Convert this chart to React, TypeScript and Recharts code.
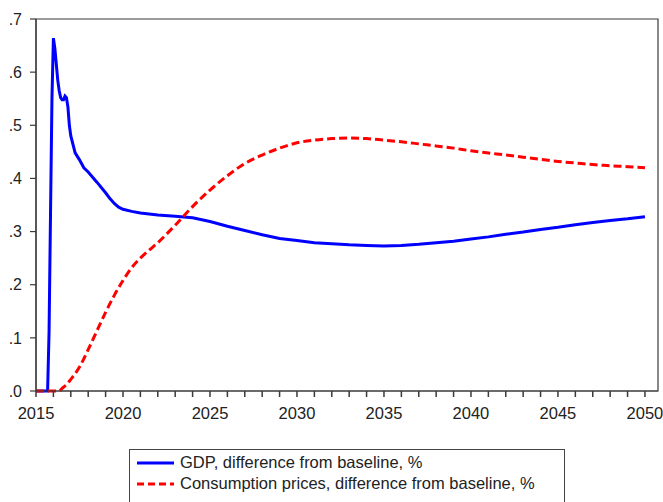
import React from "react";
import { LineChart, Line, XAxis, YAxis, ReferenceArea } from "recharts";

// GDP, difference from baseline (%)
const gdpYears = [
  2015.0, 2015.667, 2015.75, 2015.833, 2015.917, 2016.0, 2016.083, 2016.167, 2016.25,
  2016.333, 2016.417, 2016.5, 2016.583, 2016.667, 2016.75, 2016.833, 2016.917, 2017.0,
  2017.25, 2017.5, 2017.75, 2018.0, 2018.5, 2019.0, 2019.25, 2019.5, 2019.75, 2020.0,
  2020.5, 2021.0, 2022, 2023, 2024, 2025, 2026, 2027, 2028, 2029, 2030, 2031, 2032, 2033,
  2034, 2035, 2036, 2037, 2038, 2039, 2040, 2041, 2042, 2043, 2044, 2045, 2046, 2047, 2048,
  2049, 2050,
];
const gdpValues = [
  0, 0, 0.11, 0.33, 0.55, 0.664, 0.645, 0.615, 0.585,
  0.565, 0.552, 0.548, 0.548, 0.555, 0.552, 0.535, 0.5, 0.48,
  0.448, 0.435, 0.42, 0.412, 0.393, 0.373, 0.362, 0.353, 0.346, 0.342,
  0.338, 0.335, 0.331, 0.329, 0.326, 0.319, 0.31, 0.302, 0.294, 0.287, 0.283, 0.279, 0.277, 0.275,
  0.274, 0.273, 0.274, 0.276, 0.279, 0.282, 0.286, 0.29, 0.295, 0.299, 0.304, 0.308, 0.313, 0.317, 0.321,
  0.324, 0.328,
];

// Consumption prices, difference from baseline (%)
const cpiYears = [
  2015.0, 2016.33, 2016.5, 2016.75, 2017.0, 2017.5, 2018.0, 2018.5, 2019.0, 2019.5,
  2020.0, 2020.5, 2021.0, 2021.5, 2022, 2023, 2024, 2025, 2026, 2027, 2028, 2029, 2030,
  2031, 2032, 2033, 2034, 2035, 2036, 2037, 2038, 2039, 2040, 2041, 2042, 2043, 2044,
  2045, 2046, 2047, 2048, 2049, 2050,
];
const cpiValues = [
  0, 0, 0.005, 0.012, 0.022, 0.045, 0.078, 0.113, 0.148, 0.18,
  0.208, 0.232, 0.25, 0.265, 0.279, 0.312, 0.347, 0.378, 0.405, 0.428, 0.444, 0.457, 0.467,
  0.472, 0.475, 0.476, 0.475, 0.472, 0.469, 0.465, 0.461, 0.457, 0.452, 0.448, 0.444, 0.44, 0.436,
  0.432, 0.429, 0.426, 0.424, 0.422, 0.42,
];

const yTicks = [0, 0.1, 0.2, 0.3, 0.4, 0.5, 0.6, 0.7];
const xTicks = Array.from({ length: 36 }, (_, i) => 2015 + i);

const gdpLabel = "GDP, difference from baseline, %";
const cpiLabel = "Consumption prices, difference from baseline, %";

const gdpData = gdpYears.map((t, i) => ({ t, v: gdpValues[i] }));
const cpiData = cpiYears.map((t, i) => ({ t, v: cpiValues[i] }));

const FONT = "'Liberation Sans', Arial, sans-serif";
const AXIS = "#3a3a3a";
const TEXT = "#222";

// year ticks hang below the axis, every fifth one gets a label
function YearTick(props: any) {
  const { x, y, payload } = props;
  const year = payload.value as number;
  return (
    <g>
      <path d={`M${x},${y}V${y + 6}`} stroke={AXIS} strokeWidth={1.5} fill="none" />
      {year % 5 === 0 && (
        <text x={x} y={y + 28} textAnchor="middle" fill={TEXT} fontSize={16.5} fontFamily={FONT}>
          {year}
        </text>
      )}
    </g>
  );
}

export default function App() {
  return (
    <div style={{ position: "absolute", left: 0, top: 0, width: 663, height: 502, background: "#fff", fontFamily: FONT }}>
      <LineChart width={663} height={502} margin={{ top: 19, right: 5, bottom: 0, left: 0 }}>
        <XAxis
          dataKey="t"
          type="number"
          domain={[2015, 2050.75]}
          ticks={xTicks}
          interval={0}
          allowDataOverflow
          tick={<YearTick />}
          tickLine={false}
          tickSize={0}
          tickMargin={0}
          height={111}
          stroke={AXIS}
          strokeWidth={1.2}
        />
        <YAxis
          type="number"
          domain={[0, 0.7]}
          ticks={yTicks}
          interval={0}
          tickFormatter={(v: number) => v.toFixed(1).replace(/^0/, "")}
          tick={{ fill: TEXT, fontSize: 16, fontFamily: FONT }}
          tickSize={6}
          tickMargin={8}
          width={36}
          stroke={AXIS}
          strokeWidth={1.2}
        />
        <ReferenceArea x1={2015} x2={2050.75} y1={0} y2={0.7} fill="none" stroke={AXIS} strokeWidth={1.2} />
        <Line
          data={gdpData}
          dataKey="v"
          type="linear"
          stroke="#0000ff"
          strokeWidth={3}
          dot={false}
          isAnimationActive={false}
        />
        <Line
          data={cpiData}
          dataKey="v"
          type="monotone"
          stroke="#ff0000"
          strokeWidth={3}
          strokeDasharray="8 4"
          dot={false}
          isAnimationActive={false}
        />
      </LineChart>
      <div
        style={{
          position: "absolute",
          left: 129,
          top: 449,
          width: 436,
          height: 60,
          border: "1px solid #444",
          borderBottom: "none",
          boxSizing: "border-box",
          paddingTop: 2,
          color: TEXT,
          fontSize: 16.5,
        }}
      >
        {[
          { label: gdpLabel, color: "#0000ff", dash: undefined },
          { label: cpiLabel, color: "#ff0000", dash: "7 4" },
        ].map((d) => (
          <div key={d.label} style={{ display: "flex", alignItems: "center", height: 21 }}>
            <svg width={50} height={10} style={{ flex: "none" }}>
              <line x1={7} x2={44} y1={5} y2={5} stroke={d.color} strokeWidth={3} strokeDasharray={d.dash} />
            </svg>
            <span>{d.label}</span>
          </div>
        ))}
      </div>
    </div>
  );
}
